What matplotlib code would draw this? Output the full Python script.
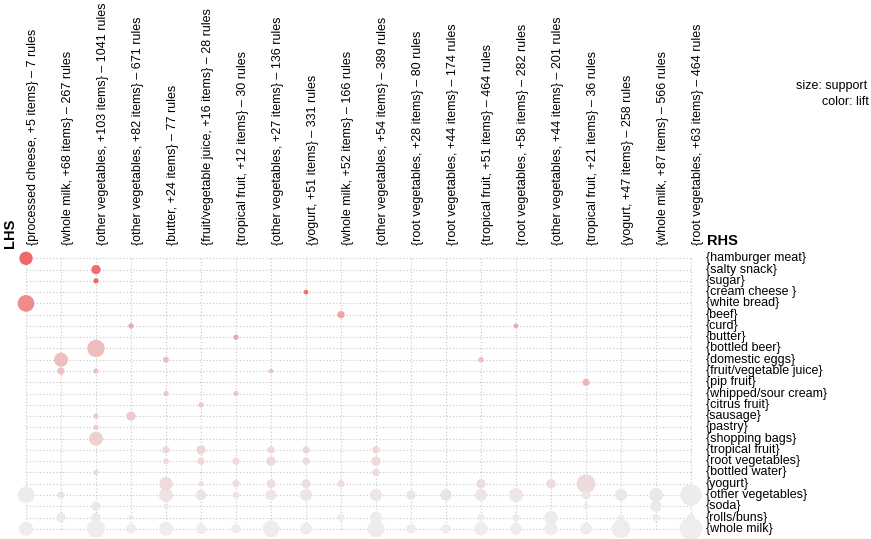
import matplotlib
matplotlib.use("Agg")
import matplotlib.pyplot as plt
import numpy as np
from matplotlib.colors import LinearSegmentedColormap, Normalize

plt.rcParams['font.family'] = ['Liberation Sans', 'DejaVu Sans']

lhs_labels = [
    "{processed cheese, +5 items} \u2013 7 rules",
    "{whole milk, +68 items} \u2013 267 rules",
    "{other vegetables, +103 items} \u2013 1041 rules",
    "{other vegetables, +82 items} \u2013 671 rules",
    "{butter, +24 items} \u2013 77 rules",
    "{fruit/vegetable juice, +16 items} \u2013 28 rules",
    "{tropical fruit, +12 items} \u2013 30 rules",
    "{other vegetables, +27 items} \u2013 136 rules",
    "{yogurt, +51 items} \u2013 331 rules",
    "{whole milk, +52 items} \u2013 166 rules",
    "{other vegetables, +54 items} \u2013 389 rules",
    "{root vegetables, +28 items} \u2013 80 rules",
    "{root vegetables, +44 items} \u2013 174 rules",
    "{tropical fruit, +51 items} \u2013 464 rules",
    "{root vegetables, +58 items} \u2013 282 rules",
    "{other vegetables, +44 items} \u2013 201 rules",
    "{tropical fruit, +21 items} \u2013 36 rules",
    "{yogurt, +47 items} \u2013 258 rules",
    "{whole milk, +87 items} \u2013 566 rules",
    "{root vegetables, +63 items} \u2013 464 rules",
]

rhs_labels = [
    "{hamburger meat}", "{salty snack}", "{sugar}", "{cream cheese }",
    "{white bread}", "{beef}", "{curd}", "{butter}", "{bottled beer}",
    "{domestic eggs}", "{fruit/vegetable juice}", "{pip fruit}",
    "{whipped/sour cream}", "{citrus fruit}", "{sausage}", "{pastry}",
    "{shopping bags}", "{tropical fruit}", "{root vegetables}",
    "{bottled water}", "{yogurt}", "{other vegetables}", "{soda}",
    "{rolls/buns}", "{whole milk}",
]

# one entry per drawn circle: LHS group index, RHS item index, support, lift
point_lhs = [0, 2, 2, 8, 0, 9, 3, 14, 6, 2, 1, 4, 13, 1, 2, 7, 16, 4, 6, 5,
             2, 3, 2, 2,
             4, 5, 7, 8, 10,
             4, 5, 6, 7, 8, 10,
             2, 10,
             4, 5, 6, 7, 8, 9, 13, 15, 16,
             0, 1, 4, 5, 6, 7, 8, 10, 11, 12, 13, 14, 16, 17, 18, 19,
             2, 4, 16, 18,
             1, 2, 3, 9, 10, 13, 14, 15, 17, 18, 19,
             0, 2, 3, 4, 5, 6, 7, 8, 10, 11, 12, 13, 14, 15, 16, 17, 19]
point_rhs = [0, 1, 2, 3, 4, 5, 6, 6, 7, 8, 9, 9, 9, 10, 10, 10, 11, 12, 12, 13,
             14, 14, 15, 16,
             17, 17, 17, 17, 17,
             18, 18, 18, 18, 18, 18,
             19, 19,
             20, 20, 20, 20, 20, 20, 20, 20, 20,
             21, 21, 21, 21, 21, 21, 21, 21, 21, 21, 21, 21, 21, 21, 21, 21,
             22, 22, 22, 22,
             23, 23, 23, 23, 23, 23, 23, 23, 23, 23, 23,
             24, 24, 24, 24, 24, 24, 24, 24, 24, 24, 24, 24, 24, 24, 24, 24, 24]
point_support = [0.0080, 0.0039, 0.0013, 0.0010, 0.0125, 0.0024, 0.0013, 0.0010,
                 0.0013, 0.0135, 0.0088, 0.0016, 0.0013, 0.0024, 0.0013, 0.0010,
                 0.0024, 0.0013, 0.0013, 0.0013,
                 0.0013, 0.0039, 0.0013, 0.0088,
                 0.0024, 0.0039, 0.0024, 0.0024, 0.0024,
                 0.0016, 0.0024, 0.0024, 0.0039, 0.0024, 0.0039,
                 0.0013, 0.0024,
                 0.0080, 0.0013, 0.0024, 0.0034, 0.0034, 0.0024, 0.0039, 0.0039, 0.0157,
                 0.0125, 0.0024, 0.0088, 0.0051, 0.0024, 0.0051, 0.0065, 0.0065,
                 0.0039, 0.0058, 0.0065, 0.0088, 0.0034, 0.0065, 0.0088, 0.0205,
                 0.0039, 0.0013, 0.0013, 0.0058,
                 0.0039, 0.0039, 0.0013, 0.0024, 0.0065, 0.0024, 0.0024, 0.0080,
                 0.0020, 0.0024, 0.0029,
                 0.0088, 0.0146, 0.0045, 0.0088, 0.0051, 0.0039, 0.0125, 0.0065,
                 0.0125, 0.0039, 0.0039, 0.0080, 0.0065, 0.0080, 0.0065, 0.0157, 0.0231]
point_lift = [4.9, 4.8, 4.8, 4.6, 3.9, 3.1, 3.0, 3.0, 3.0, 2.5, 2.4, 2.4, 2.5,
              2.3, 2.3, 2.3, 2.6, 2.2, 2.2, 2.2,
              2.1, 2.1, 2.0, 1.9,
              1.7, 1.7, 1.7, 1.7, 1.7,
              1.6, 1.6, 1.6, 1.6, 1.6, 1.6,
              1.6, 1.6,
              1.55, 1.5, 1.5, 1.5, 1.5, 1.5, 1.5, 1.5, 1.6,
              1.1, 1.4, 1.35, 1.35, 1.3, 1.3, 1.3, 1.3, 1.35, 1.35, 1.3, 1.3,
              1.3, 1.25, 1.2, 1.1,
              1.15, 1.15, 1.15, 1.15,
              1.15, 1.15, 1.15, 1.1, 1.1, 1.1, 1.1, 1.1, 1.1, 1.1, 1.05,
              1.05, 1.05, 1.1, 1.05, 1.05, 1.05, 1.05, 1.05, 1.05, 1.1, 1.05,
              1.05, 1.05, 1.05, 1.05, 1.05, 1.0]

W, H, DPI = 871, 539, 100
fig = plt.figure(figsize=(W / DPI, H / DPI), dpi=DPI)

ncol = len(lhs_labels)
nrow = len(rhs_labels)
col_step = 35.0      # px between columns
row_step = 11.27     # px between rows
x0_px = 26.0         # centre of first column
y0_px = 258.3        # centre of first row (from top)

left = (x0_px - col_step / 2) / W
width = col_step * ncol / W
top = (y0_px - row_step / 2)
height = row_step * nrow / H
bottom = (H - top) / H - height
ax = fig.add_axes([left, bottom, width, height])
ax.set_xlim(-0.5, ncol - 0.5)
ax.set_ylim(nrow - 0.5, -0.5)
ax.axis('off')

# dotted grid
ax.hlines(np.arange(nrow), 0, ncol - 1, colors='#c4c4c4', linestyles=(0, (1, 2)),
          linewidth=0.8, zorder=1)
ax.vlines(np.arange(ncol), 0, nrow - 1, colors='#c4c4c4', linestyles=(0, (1, 2)),
          linewidth=0.8, zorder=1)

cmap = LinearSegmentedColormap.from_list('lift', ['#EEEEEE', '#EE0000'])
norm = Normalize(vmin=1.0, vmax=8.0)

sup = np.array(point_support)
radius_px = np.sqrt(sup / 0.00002) / 3.0
diam_pt = 2 * radius_px * 72.0 / DPI
order = np.argsort(-sup)
ax.scatter(np.array(point_lhs)[order], np.array(point_rhs)[order],
           s=(diam_pt ** 2)[order], c=np.array(point_lift)[order], cmap=cmap, norm=norm,
           edgecolors='none', zorder=3, clip_on=False)

fs = 9.0
# column labels
for i, lab in enumerate(lhs_labels):
    ax.text(i + 0.03, -1.2, lab, rotation=90, ha='left', va='bottom', fontsize=fs)

# RHS labels
for j, lab in enumerate(rhs_labels):
    ax.text(ncol - 0.57, j, lab, ha='left', va='center', fontsize=fs)

fig.text(10 / W, 1 - 233 / H, "LHS", rotation=90, ha='center', va='center',
         fontsize=10.5, fontweight='bold')
fig.text(707 / W, 1 - 241 / H, "RHS", ha='left', va='center',
         fontsize=10.5, fontweight='bold')
fig.text(867 / W, 1 - 86 / H, "size: support", ha='right', va='center', fontsize=fs)
fig.text(869 / W, 1 - 102 / H, "color: lift", ha='right', va='center', fontsize=fs)

fig.savefig("out.png", dpi=DPI)
